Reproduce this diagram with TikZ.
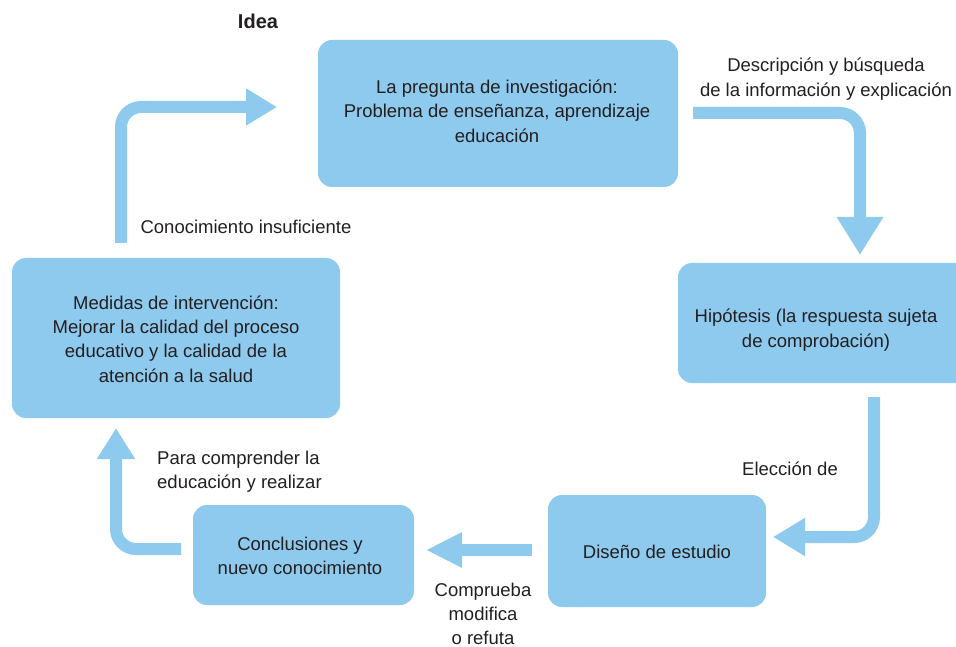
\documentclass[tikz,border=0pt]{standalone}
\usepackage{fontspec}
\setmainfont{Liberation Sans}
\usetikzlibrary{arrows.meta}
\definecolor{boxblue}{RGB}{142,201,238}
\definecolor{txtgray}{RGB}{35,31,32}
\begin{document}
\begin{tikzpicture}[x=1pt,y=-1pt,
  box/.style={fill=boxblue,draw=none,rounded corners=14pt,inner sep=0pt},
  txt/.style={font=\fontsize{18.5}{24.3}\selectfont,text=txtgray,align=center,inner sep=0pt},
  flow/.style={draw=boxblue,line width=12pt,rounded corners=20pt}]
\useasboundingbox (0,0) rectangle (956,647);
\clip (0,0) rectangle (956,647);
% boxes
\node[box,minimum width=360pt,minimum height=147pt] (q) at (498,113.5) {};
\node[box,minimum width=292pt,minimum height=120pt] (h) at (824,323) {};
\node[box,minimum width=218pt,minimum height=112pt] (d) at (657,551) {};
\node[box,minimum width=221pt,minimum height=100pt] (c) at (303.5,555) {};
\node[box,minimum width=328pt,minimum height=160pt] (m) at (176,338) {};
% box texts
\node[txt] (qt) at (497,111) {La pregunta de investigación:\\Problema de enseñanza, aprendizaje\\educación};
\node[txt] (ht) at (816,330) {Hipótesis (la respuesta sujeta\\de comprobación)};
\node[txt] (dt) at (657,552) {Diseño de estudio};
\node[txt] (ct) at (300,556) {Conclusiones y\\nuevo conocimiento};
\node[txt] (mt) at (176,339) {Medidas de intervención:\\Mejorar la calidad del proceso\\educativo y la calidad de la\\atención a la salud};
% labels
\node[txt,font=\fontsize{20}{24}\selectfont\bfseries] (idea) at (258,21) {Idea};
\node[txt] (l1) at (826,79) {Descripción y búsqueda\\de la información y explicación};
\node[txt] (l2) at (790,469) {Elección de};
\node[txt] (l3) at (483,614) {Comprueba\\modifica\\o refuta};
\node[txt,align=left,anchor=west] (l4) at (157,472) {Para comprender la\\educación y realizar};
\node[txt] (l5) at (246,227) {Conocimiento insuficiente};
% arrow end points
\coordinate (a1) at (121,243); \coordinate (a2) at (277,107);
\coordinate (b1) at (693,113); \coordinate (b2) at (860,255);
\coordinate (c1) at (874,397); \coordinate (c2) at (773,537);
\coordinate (d1) at (532,550); \coordinate (d2) at (426,550);
\coordinate (e1) at (181,549); \coordinate (e2) at (116,428);
% arrows
\draw[flow,-{Triangle[length=31pt,width=35pt]}] (a1) |- (a2);
\draw[flow,-{Triangle[length=38pt,width=44pt]}] (b1) -| (b2);
\draw[flow,-{Triangle[length=32pt,width=36pt]}] (c1) |- (c2);
\draw[flow,-{Triangle[length=36pt,width=33pt]}] (d1) -- (d2);
\draw[flow,-{Triangle[length=31pt,width=36pt]}] (e1) -| (e2);
\end{tikzpicture}
\end{document}
